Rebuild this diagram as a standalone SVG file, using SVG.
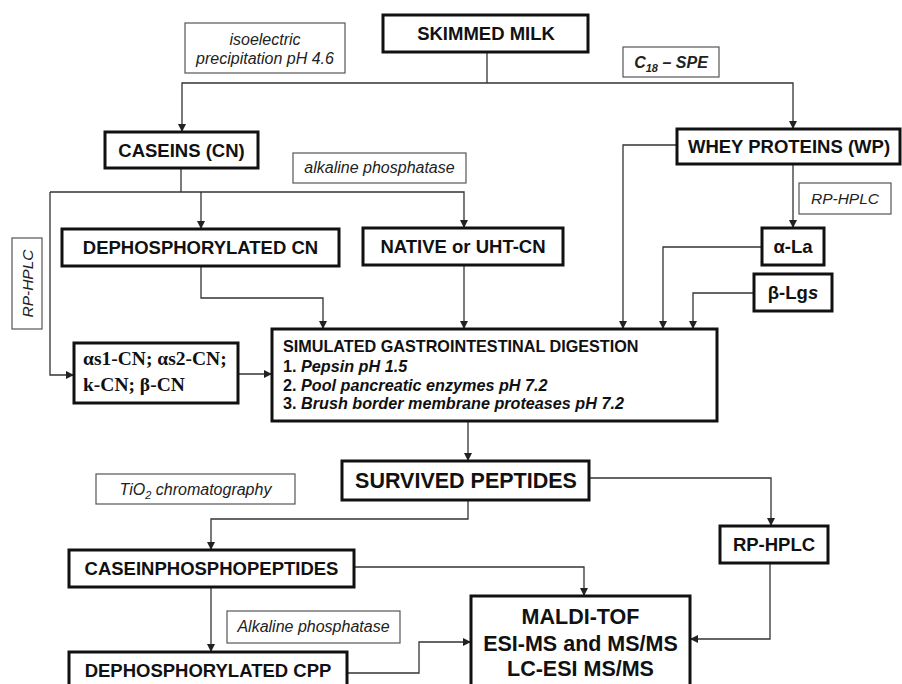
<svg xmlns="http://www.w3.org/2000/svg" width="902" height="684" viewBox="0 0 902 684">
<defs>
<marker id="ah" markerUnits="userSpaceOnUse" markerWidth="8" markerHeight="8" refX="8" refY="4" orient="auto">
<path d="M0,0 L8,4 L0,8 z" fill="#222"/>
</marker>
<style>
.node{fill:#fff;stroke:#111;stroke-width:3}
.note{fill:#fff;stroke:#555;stroke-width:1.2}
.t{font-family:"Liberation Sans",Arial,sans-serif;font-weight:bold;font-size:18.5px;fill:#111;text-anchor:middle}
.big{font-size:21.5px}
.n{font-family:"Liberation Sans",Arial,sans-serif;font-style:italic;font-size:16px;fill:#222;text-anchor:middle}
.sm{font-size:15.5px}
.s{font-family:"Liberation Serif","Times New Roman",serif;font-weight:bold;font-size:19.5px;fill:#111}
.d{font-family:"Liberation Sans",Arial,sans-serif;font-weight:bold;font-size:16.2px;fill:#111}
.c{fill:none;stroke:#333;stroke-width:1.3}
.a{marker-end:url(#ah)}
</style>
</defs>
<rect width="902" height="684" fill="#fff"/>

<g id="connectors">
<path class="c" d="M487,52 V83"/>
<path class="c a" d="M487,83 H182 V132"/>
<path class="c a" d="M487,83 H793 V129"/>
<path class="c" d="M181,168 V192"/>
<path class="c a" d="M50,192 H464 V228"/>
<path class="c a" d="M201,192 V229"/>
<path class="c a" d="M50,192 V375 H74"/>
<path class="c a" d="M201,266 V298 H323 V329"/>
<path class="c a" d="M464,265 V329"/>
<path class="c a" d="M793,164 V228"/>
<path class="c a" d="M677,145 H623 V329"/>
<path class="c a" d="M762,247 H663 V329"/>
<path class="c a" d="M754,293 H693 V329"/>
<path class="c a" d="M238,374 H272"/>
<path class="c a" d="M468,421 V461"/>
<path class="c a" d="M589,478 H771 V526"/>
<path class="c a" d="M468,500 V519 H211 V550"/>
<path class="c a" d="M354,567 H584 V596"/>
<path class="c a" d="M211,587 V652"/>
<path class="c a" d="M770,563 V639 H690"/>
<path class="c a" d="M347,673 H419 V642 H471"/>
</g>

<g id="note-isoelectric">
<rect class="note" x="185" y="23" width="160" height="50"/>
<text class="n" x="265" y="45">isoelectric</text>
<text class="n" x="265" y="64">precipitation pH 4.6</text>
</g>
<g id="note-c18">
<rect class="note" x="623" y="47" width="96" height="30"/>
<text class="n" x="671" y="68" style="font-weight:bold">C<tspan font-size="11" dy="4">18</tspan><tspan dy="-4"> – SPE</tspan></text>
</g>
<g id="note-alkaline">
<rect class="note" x="293" y="153" width="173" height="30"/>
<text class="n" x="379.5" y="173">alkaline phosphatase</text>
</g>
<g id="note-rphplc-wp">
<rect class="note" x="799" y="183" width="92" height="31"/>
<text class="n sm" x="845" y="204">RP-HPLC</text>
</g>
<g id="note-rphplc-cn">
<rect class="note" x="12" y="238" width="30" height="91"/>
<text class="n sm" transform="translate(32.5,283.5) rotate(-90)" x="0" y="0">RP-HPLC</text>
</g>
<g id="note-tio2">
<rect class="note" x="96" y="474" width="199" height="30"/>
<text class="n" x="195.5" y="495">TiO<tspan font-size="11" dy="4">2</tspan><tspan dy="-4"> chromatography</tspan></text>
</g>
<g id="note-alkaline2">
<rect class="note" x="227" y="611" width="173" height="32"/>
<text class="n" x="313.5" y="632">Alkaline phosphatase</text>
</g>

<g id="skimmed-milk">
<rect class="node" x="383" y="15" width="205" height="37"/>
<text class="t" x="486" y="40">SKIMMED MILK</text>
</g>
<g id="caseins">
<rect class="node" x="105" y="132" width="153" height="36"/>
<text class="t" x="181.5" y="156.5">CASEINS (CN)</text>
</g>
<g id="whey">
<rect class="node" x="677" y="129" width="223" height="35"/>
<text class="t" x="789" y="153">WHEY PROTEINS (WP)</text>
</g>
<g id="dephos-cn">
<rect class="node" x="62" y="229" width="277" height="37"/>
<text class="t" x="200.5" y="254">DEPHOSPHORYLATED CN</text>
</g>
<g id="native">
<rect class="node" x="363" y="228" width="200" height="37"/>
<text class="t" x="463" y="253">NATIVE or UHT-CN</text>
</g>
<g id="alpha-la">
<rect class="node" x="762" y="228" width="62" height="37"/>
<text class="t" x="793" y="253">α-La</text>
</g>
<g id="beta-lgs">
<rect class="node" x="754" y="274" width="78" height="37"/>
<text class="t" x="793" y="299">β-Lg<tspan font-style="italic">s</tspan></text>
</g>
<g id="caseins-list">
<rect class="node" x="74" y="343" width="164" height="60"/>
<text class="s" x="83" y="365">αs1-CN; αs2-CN;</text>
<text class="s" x="83" y="391">k-CN; β-CN</text>
</g>
<g id="digestion">
<rect class="node" x="272" y="329" width="445" height="92"/>
<text class="d" x="283" y="352">SIMULATED GASTROINTESTINAL DIGESTION</text>
<text class="d" x="283" y="372">1. <tspan font-style="italic">Pepsin pH 1.5</tspan></text>
<text class="d" x="283" y="391">2. <tspan font-style="italic">Pool pancreatic enzymes pH 7.2</tspan></text>
<text class="d" x="283" y="409">3. <tspan font-style="italic">Brush border membrane proteases pH 7.2</tspan></text>
</g>
<g id="survived">
<rect class="node" x="342" y="461" width="247" height="39"/>
<text class="t big" x="466" y="488">SURVIVED PEPTIDES</text>
</g>
<g id="rphplc">
<rect class="node" x="720" y="526" width="108" height="37"/>
<text class="t" x="774" y="551">RP-HPLC</text>
</g>
<g id="cpp">
<rect class="node" x="69" y="550" width="285" height="37"/>
<text class="t" x="211.5" y="575">CASEINPHOSPHOPEPTIDES</text>
</g>
<g id="maldi">
<rect class="node" x="471" y="596" width="219" height="110"/>
<text class="t big" x="580.5" y="624">MALDI-TOF</text>
<text class="t big" x="580.5" y="651">ESI-MS and MS/MS</text>
<text class="t big" x="580.5" y="676">LC-ESI MS/MS</text>
</g>
<g id="dephos-cpp">
<rect class="node" x="69" y="652" width="278" height="60"/>
<text class="t" x="208" y="677">DEPHOSPHORYLATED CPP</text>
</g>
</svg>
